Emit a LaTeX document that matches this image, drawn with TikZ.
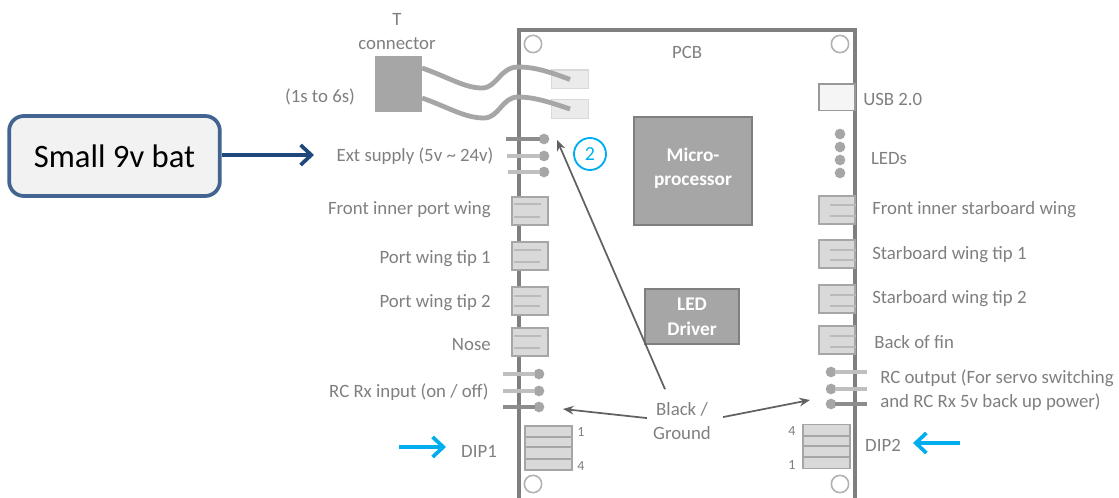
\documentclass[tikz,border=0pt]{standalone}
\usepackage{fontspec}
\setmainfont{Carlito}
\usetikzlibrary{arrows.meta,positioning,calc}
\definecolor{labelgrey}{HTML}{7F7F7F}
\definecolor{boardgrey}{HTML}{7F7F7F}
\definecolor{partgrey}{HTML}{A6A6A6}
\definecolor{batblue}{HTML}{1F497D}
\definecolor{dipblue}{HTML}{00AEEF}

\begin{document}
\begin{tikzpicture}[x=0.75pt, y=-0.75pt]

% Define styles
\tikzstyle{label} = [text=labelgrey, font=\fontsize{14.1}{18}\selectfont, inner sep=0pt, yshift=-0.8pt]
\tikzstyle{board} = [rectangle, minimum width=252pt, minimum height=352pt, draw=boardgrey, line width=2.8pt]
\tikzstyle{hole} = [circle, minimum size=13pt, inner sep=0pt, draw=black!30, line width=1.2pt, fill=white]
\tikzstyle{chip} = [rectangle, inner sep=0pt, draw=labelgrey, line width=1.6pt, fill=partgrey, text=white, align=center, font=\fontsize{14.5}{19}\selectfont\bfseries]
\tikzstyle{pad} = [rectangle, minimum width=27.5pt, minimum height=14pt, inner sep=0pt, draw=black!15, line width=1pt, fill=black!8]
\tikzstyle{socket} = [rectangle, minimum width=27pt, minimum height=21pt, inner sep=0pt, draw=partgrey, line width=1.5pt, fill=black!15]
\tikzstyle{prong} = [draw=black!27, line width=1.6pt]
\tikzstyle{dip} = [rectangle, minimum width=35pt, minimum height=33pt, inner sep=0pt, draw=partgrey, line width=1.4pt, fill=black!15]
\tikzstyle{divider} = [draw=partgrey, line width=1.4pt]
\tikzstyle{pin} = [circle, minimum size=8pt, inner sep=0pt, outer sep=-1pt, fill=partgrey]
\tikzstyle{wire} = [draw=partgrey, line width=3.6pt]
\tikzstyle{lead} = [draw=black!25, line width=2.6pt]
\tikzstyle{darklead} = [draw=black!45, line width=2.6pt]
\tikzstyle{pointer} = [draw=black!62, line width=1.3pt, -{Stealth[length=8pt, width=6.5pt]}]
\tikzstyle{batarrow} = [draw=batblue, line width=2.8pt, -{Straight Barb[length=8pt, width=15pt]}]
\tikzstyle{diparrow} = [draw=dipblue, line width=2.8pt, -{Straight Barb[length=8pt, width=15pt]}]

\useasboundingbox (0,0) rectangle (1119,498);

% PCB
\node (pcb) [board] at (687,265) {};
\node (pcbname) [label] at (687,51) {PCB};
\node (holeA) [hole] at (533,44) {};
\node (holeB) [hole] at (840,44) {};
\node (holeC) [hole] at (533,484) {};
\node (holeD) [hole] at (840,484) {};

% Battery
\node (bat) [rectangle, rounded corners=11pt, minimum width=158pt, minimum height=60pt, draw=batblue!85, line width=2.8pt, fill=black!5, font=\fontsize{24.5}{28}\selectfont] at (114.5,156) {Small 9v bat};
\coordinate (battip) at (314,155);
\draw [batarrow] (bat.east |- battip) -- (battip);

% Main connector
\node (tconn) [rectangle, minimum width=35pt, minimum height=42pt, inner sep=0pt, fill=partgrey] at (398.5,84) {};
\node (tname) [label, align=center] at (397,30) {T\\connector};
\node (cells) [label] at (320,96) {(1s to 6s)};
\node (padA) [pad] at (570,79.5) {};
\node (padB) [pad] at (570,109) {};
\draw [wire] ([yshift=12pt]tconn.east) .. controls (450,78) and (465,88) .. (482,88) .. controls (497,88) and (500,67) .. (518,67) .. controls (535,67) and (550,72) .. (padA.center);
\draw [wire] ([yshift=-10.5pt]tconn.east) .. controls (450,108) and (465,118) .. (484,118) .. controls (499,118) and (502,97) .. (518,97) .. controls (535,97) and (552,103) .. (padB.center);

% Ext supply
\node (extname) [label] at (415,155) {Ext supply  (5v \char`\~{} 24v)};
\node (extA) [pin] at (544,139) {};
\node (extB) [pin] at (544,156) {};
\node (extC) [pin] at (544,172) {};
\draw [darklead] (extA.west) -- ++(-34,0);
\draw [lead] (extB.west) -- ++(-33,0);
\draw [lead] (extC.west) -- ++(-32,0);
\node (two) [circle, minimum size=24pt, inner sep=0pt, draw=dipblue, line width=1.4pt, text=dipblue, font=\fontsize{15}{18}\selectfont] at (590,154) {2};

% Chips
\node (micro) [chip, minimum width=88pt, minimum height=81pt] at (693,171) {};
\node (microname) [text=white, align=center, font=\fontsize{14.5}{17.5}\selectfont\bfseries, inner sep=0pt] at (micro.center) [yshift=2pt] {Micro-\\processor};
\node (driver) [chip, minimum width=71pt, minimum height=41pt] at (692,316.5) {LED\\Driver};

% Port side sockets
\node (sockA) [socket] at (530,211) {};
\node (sockB) [socket] at (530,256) {};
\node (sockC) [socket] at (530,301) {};
\node (sockD) [socket] at (530,342) {};
\draw [prong] (514,204) -- (541,204) (514,217) -- (540,217);
\draw [prong] (514,250) -- (541,250) (514,262) -- (540,262);
\draw [prong] (514,296) -- (541,296) (514,306) -- (540,306);
\draw [prong] (514,336) -- (541,336) (514,348) -- (540,348);
\node (nameA) [label, anchor=east] at (491,209) {Front inner port wing};
\node (nameB) [label, anchor=east] at (491,258) {Port wing tip 1};
\node (nameC) [label, anchor=east] at (491,302) {Port wing tip 2};
\node (nameD) [label, anchor=east] at (491,343) {Nose};

% Starboard side parts
\node (usb) [rectangle, minimum width=27pt, minimum height=20pt, inner sep=0pt, draw=black!40, line width=1pt, fill=black!4] at (837,97.5) {};
\node (usbname) [label, anchor=west] at (863,98) {USB 2.0};
\node (ledA) [pin] at (840,134) {};
\node (ledB) [pin] at (840,147) {};
\node (ledC) [pin] at (840,160) {};
\node (ledD) [pin] at (840,173) {};
\node (ledname) [label] at (889,157) {LEDs};

% Starboard side sockets
\node (sockE) [socket] at (836.5,210) {};
\node (sockF) [socket] at (836.5,254.5) {};
\node (sockG) [socket] at (836.5,299) {};
\node (sockH) [socket] at (836.5,340.5) {};
\draw [prong] (830,205) -- (856,205) (830,216) -- (856,216);
\draw [prong] (830,250) -- (856,250) (830,260) -- (856,260);
\draw [prong] (830,295) -- (856,295) (830,306) -- (856,306);
\draw [prong] (830,336) -- (856,336) (830,347) -- (856,347);
\node (nameE) [label, anchor=west] at (872,209) {Front inner starboard wing};
\node (nameF) [label, anchor=west] at (872,254) {Starboard wing tip 1};
\node (nameG) [label, anchor=west] at (872,298) {Starboard wing tip 2};
\node (nameH) [label, anchor=west] at (874,341) {Back of fin};

% RC input
\node (rxname) [label, anchor=east] at (489,391) {RC Rx input (on / off)};
\node (rxA) [pin] at (539,374) {};
\node (rxB) [pin] at (539,391) {};
\node (rxC) [pin] at (539,407) {};
\draw [lead] (rxA.west) -- ++(-32,0);
\draw [lead] (rxB.west) -- ++(-32,0);
\draw [darklead] (rxC.west) -- ++(-32,0);

% RC output
\node (txname) [label, anchor=west, align=left] at (880,389) {RC output (For servo switching\\[0pt]and RC Rx 5v back up power)};
\node (txA) [pin] at (831,372) {};
\node (txB) [pin] at (831,389) {};
\node (txC) [pin] at (831,404) {};
\draw [lead] (txA.east) -- ++(32,0);
\draw [lead] (txB.east) -- ++(32,0);
\draw [darklead] (txC.east) -- ++(32,0);

% Black / Ground pointers
\node (ground) [label, align=center] at (682,420) {Black /\\Ground};
\coordinate (tipA) at (557,140);
\coordinate (tipB) at (563,409);
\coordinate (tipC) at (810,400);
\draw [pointer] ([shift={(-17,-13)}]ground.north) -- (tipA);
\draw [pointer] ([shift={(-6,-3)}]ground.west) -- (tipB);
\draw [pointer] ([shift={(12,-4)}]ground.east) -- (tipC);

% DIP switches
\node (dipA) [dip] at (548.5,448) {};
\draw [divider] (dipA.west |- 0,437) -- (dipA.east |- 0,437) (dipA.west |- 0,447) -- (dipA.east |- 0,447) (dipA.west |- 0,459) -- (dipA.east |- 0,459);
\node (dipAone) [label, font=\fontsize{10.5}{12}\selectfont] at (581,431) {1};
\node (dipAfour) [label, font=\fontsize{10.5}{12}\selectfont] at (581,465) {4};
\node (dipAname) [label] at (479,450) {DIP1};
\coordinate (dipAtip) at (446,447);
\draw [diparrow] ([xshift=-35pt]dipAtip) -- (dipAtip);

\node (dipB) [dip] at (826.5,446.5) {};
\draw [divider] (dipB.west |- 0,436) -- (dipB.east |- 0,436) (dipB.west |- 0,446) -- (dipB.east |- 0,446) (dipB.west |- 0,457) -- (dipB.east |- 0,457);
\node (dipBfour) [label, font=\fontsize{10.5}{12}\selectfont] at (792,430) {4};
\node (dipBone) [label, font=\fontsize{10.5}{12}\selectfont] at (792,464) {1};
\node (dipBname) [label] at (883,444) {DIP2};
\coordinate (dipBtip) at (913,443);
\draw [diparrow] ([xshift=35pt]dipBtip) -- (dipBtip);

\end{tikzpicture}
\end{document}
